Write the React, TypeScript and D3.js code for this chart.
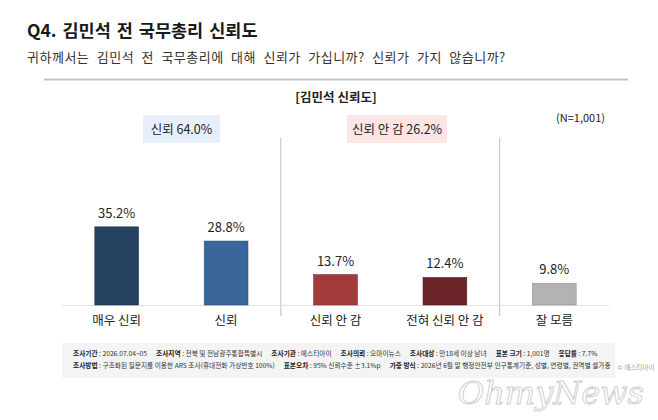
import React from "react";
import * as d3 from "d3";

const categories = ["매우 신뢰", "신뢰", "신뢰 안 감", "전혀 신뢰 안 감", "잘 모름"];
const values = [35.2, 28.8, 13.7, 12.4, 9.8];
const barColors = ["#26415f", "#39679b", "#a03a3b", "#6b2427", "#b3b3b3"];
const groupLabels = ["신뢰 64.0%", "신뢰 안 감 26.2%"];
const groupFills = ["#e7f0fa", "#fbe5e5"];

const footerLine1: [string, string][] = [
  ["조사기간", "2026.07.04~05"],
  ["조사지역", "전북 및 전남광주통합특별시"],
  ["조사기관", "에스티아이"],
  ["조사의뢰", "오마이뉴스"],
  ["조사대상", "만18세 이상 남녀"],
  ["표본 크기", "1,001명"],
  ["응답률", "7.7%"],
];
const footerLine2: [string, string][] = [
  ["조사방법", "구조화된 질문지를 이용한 ARS 조사(휴대전화 가상번호 100%)"],
  ["표본오차", "95% 신뢰수준 ±3.1%p"],
  ["가중 방식", "2026년 6월 말 행정안전부 인구통계기준, 성별, 연령별, 권역별 셀가중"],
];

const W = 658;
const H = 420;
const FONT = "'Noto Sans CJK KR', 'Noto Sans', sans-serif";

export default function App() {
  const x = d3
    .scaleBand<string>()
    .domain(categories)
    .range([62, 609])
    .paddingInner(0.6)
    .paddingOuter(0.3);
  const y = d3.scaleLinear().domain([0, 40]).range([305, 216.2]);
  const step = x.step();
  const x0 = 62;
  const dividerXs = [x0 + 2 * step, x0 + 4 * step];
  const boxes = [
    { cx: 181.5, w: 77 },
    { cx: 397, w: 100 },
  ];

  const footerRow = (items: [string, string][], yy: number) => (
    <text x={73} y={yy} fontSize={6.7} fill="#333" fontFamily={FONT}>
      {items.map(([k, v], i) => (
        <React.Fragment key={k}>
          <tspan dx={i === 0 ? 0 : 9} fontWeight={700} fill="#222">
            {k}
          </tspan>
          <tspan> : {v}</tspan>
        </React.Fragment>
      ))}
    </text>
  );

  return (
    <svg
      width={W}
      height={H}
      style={{ position: "absolute", left: 0, top: 0, background: "#fff" }}
      fontFamily={FONT}
    >
      <rect width={W} height={H} fill="#fff" />
      <text x={27} y={37} fontSize={17.5} fontWeight={700} fill="#1a1a1a" wordSpacing={2}>
        Q4.  김민석 전 국무총리 신뢰도
      </text>
      <text x={27} y={62} fontSize={13} fill="#333" wordSpacing={4} letterSpacing={0.5}>
        귀하께서는 김민석 전 국무총리에 대해 신뢰가 가십니까? 신뢰가 가지 않습니까?
      </text>
      <line x1={44} x2={628} y1={79.5} y2={79.5} stroke="#c4c4c4" strokeWidth={2} />

      <text x={336} y={102} fontSize={12.5} fontWeight={700} textAnchor="middle" fill="#222">
        [김민석 신뢰도]
      </text>
      <text x={605} y={122} fontSize={11} textAnchor="end" fill="#222">
        (N=1,001)
      </text>

      {boxes.map((b, i) => (
        <g key={i}>
          <rect x={b.cx - b.w / 2} y={115} width={b.w} height={28} fill={groupFills[i]} />
          <text x={b.cx} y={133.5} fontSize={12.5} textAnchor="middle" fill="#222">
            {groupLabels[i]}
          </text>
        </g>
      ))}

      {dividerXs.map((dx, i) => (
        <line key={i} x1={dx} x2={dx} y1={138} y2={316} stroke="#c9c9c9" strokeWidth={1.2} />
      ))}

      <line x1={62} x2={609} y1={305.5} y2={305.5} stroke="#e2e2e2" strokeWidth={1} />

      {categories.map((c, i) => {
        const bx = x(c)!;
        const bw = x.bandwidth();
        const top = y(values[i]);
        return (
          <g key={c}>
            <rect
              x={bx}
              y={top}
              width={bw}
              height={y(0) - top}
              fill={barColors[i]}
              stroke={d3.color(barColors[i])!.darker(0.6).toString()}
              strokeWidth={0.6}
            />
            <text x={bx + bw / 2} y={top - 9} fontSize={13} textAnchor="middle" fill="#222">
              {values[i].toFixed(1)}%
            </text>
            <text x={bx + bw / 2} y={325} fontSize={12.5} textAnchor="middle" fill="#222">
              {c}
            </text>
          </g>
        );
      })}

      <rect x={62} y={343} width={553} height={35} fill="#f4f4f4" />
      {footerRow(footerLine1, 356)}
      {footerRow(footerLine2, 368)}

      <text
        x={644}
        y={404}
        fontSize={32}
        fontStyle="italic"
        fontFamily="'DejaVu Serif', serif"
        textAnchor="end"
        fill="none"
        stroke="#cccccc"
        strokeWidth={0.9}
      >
        OhmyNews
      </text>
      <text x={636} y={370} fontSize={6.5} textAnchor="middle" fill="#a0a0a0">
        © 에스티아이
      </text>
    </svg>
  );
}
